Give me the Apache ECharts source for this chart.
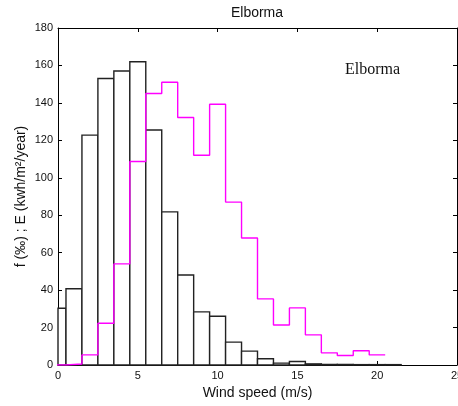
<!DOCTYPE html>
<html>
<head>
<meta charset="utf-8">
<script src="https://cdn.jsdelivr.net/npm/echarts@6/dist/echarts.min.js"></script>
<style>
html,body{margin:0;padding:0;background:#fff}
#main{width:458px;height:406px}
</style>
</head>
<body>
<div id="main"></div>
<script>
// bin centres (m/s), each bin 1 m/s wide
var freqBins = [0,1,2,3,4,5,6,7,8,9,10,11,12,13,14,15,16,17,18,19,20,21]
// frequency f (per mille), black histogram
var freqValues = [30.3,40.7,122.8,153,157,162,125.5,81.8,48.1,28.4,26,12.2,7.4,3.3,1,1.9,0.6,0.3,0.3,0.2,0.2,0.2]
// energy E (kwh/m2/year), magenta stairs
var energyBins = [0,1,2,3,4,5,6,7,8,9,10,11,12,13,14,15,16,17,18,19,20]
var energyValues = [0,0.5,5.4,22.3,54,108.7,145,151,132.2,112,139.3,87,67.8,35.3,21.4,30.5,16.1,6.5,5.1,7.6,5.4]
var xTicks = [0,5,10,15,20,25]
var yTicks = [0,20,40,60,80,100,120,140,160,180]

var barData = freqBins.map(function(x,i){ return [x, freqValues[i]] })

// stairs: each bin drawn from its left edge, last bin closed at right edge
var stairData = energyBins.map(function(x,i){ return [x-0.5, energyValues[i]] })
stairData.push([energyBins[energyBins.length-1]+0.5, energyValues[energyValues.length-1]])

var myChart = echarts.init(document.getElementById("main"))

function renderBar(params, api){
    var x = api.value(0), y = api.value(1)
    var p1 = api.coord([x-0.5, y])
    var p2 = api.coord([x+0.5, 0])
    var shape = echarts.graphic.clipRectByRect({
        x: p1[0], y: p1[1], width: p2[0]-p1[0], height: p2[1]-p1[1]
    }, {
        x: params.coordSys.x, y: params.coordSys.y,
        width: params.coordSys.width, height: params.coordSys.height
    })
    if(!shape) return
    return {
        type: 'rect',
        shape: shape,
        style: { fill: '#fff', stroke: '#222', lineWidth: 1.4 }
    }
}

var axisText = { fontFamily: 'Liberation Sans', fontSize: 11, color: '#111' }
var tickIn = { show: true, inside: true, length: 4, lineStyle: { color: '#000' } }
var lineBlack = { show: true, onZero: false, lineStyle: { color: '#000', width: 1 } }

var option = {
    animation: false,
    backgroundColor: '#fff',
    graphic: [{
        type: 'text', x: 257, y: 13,
        style: { text: 'Elborma', font: '14px "Liberation Sans"', fill: '#111', align: 'center', verticalAlign: 'middle' }
    }, {
        type: 'text', left: 345, top: 62,
        style: { text: 'Elborma', font: '16px "Liberation Serif"', fill: '#111' }
    }],
    grid: { left: 58, right: 1, top: 28, bottom: 41, containLabel: false, outerBoundsMode: 'none' },
    xAxis: [{
        type: 'value', min: 0, max: 25, interval: 5,
        name: 'Wind speed (m/s)', nameLocation: 'middle', nameGap: 18,
        nameTextStyle: { fontFamily: 'Liberation Sans', fontSize: 14, color: '#111' },
        axisLine: lineBlack,
        axisTick: tickIn,
        axisLabel: Object.assign({ margin: 5, formatter: function(v){ return xTicks.indexOf(v) >= 0 ? v : '' } }, axisText),
        splitLine: { show: false }
    }, {
        type: 'value', min: 0, max: 25, interval: 5, position: 'top',
        axisLine: lineBlack,
        axisTick: tickIn,
        axisLabel: { show: false },
        splitLine: { show: false }
    }],
    yAxis: [{
        type: 'value', min: 0, max: 180, interval: 20,
        name: 'f (‰) ; E (kwh/m²/year)', nameLocation: 'middle', nameGap: 30, nameMoveOverlap: false,
        nameTextStyle: { fontFamily: 'Liberation Sans', fontSize: 14, color: '#111' },
        axisLine: lineBlack,
        axisTick: tickIn,
        axisLabel: Object.assign({ margin: 5, formatter: function(v){ return yTicks.indexOf(v) >= 0 ? v : '' } }, axisText),
        splitLine: { show: false }
    }, {
        type: 'value', min: 0, max: 180, interval: 20, position: 'right',
        axisLine: lineBlack,
        axisTick: tickIn,
        axisLabel: { show: false },
        splitLine: { show: false }
    }],
    series: [{
        name: 'f',
        type: 'custom',
        renderItem: renderBar,
        data: barData,
        z: 2
    }, {
        name: 'E',
        type: 'line',
        step: 'end',
        data: stairData,
        showSymbol: false,
        clip: true,
        lineStyle: { color: '#ff00ff', width: 1.4 },
        z: 3
    }]
}
myChart.setOption(option)
</script>
</body>
</html>
